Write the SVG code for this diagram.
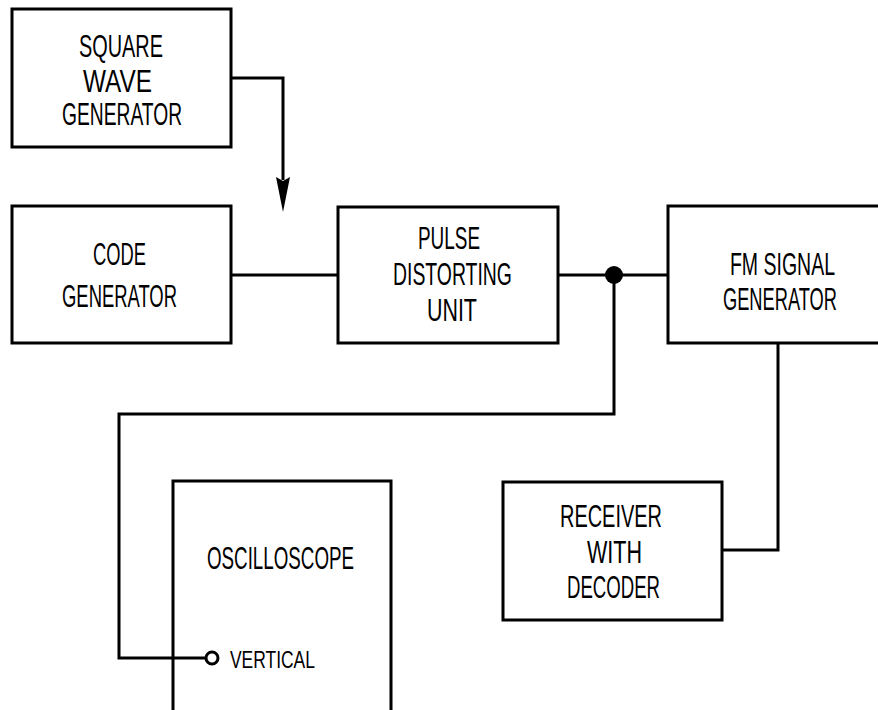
<svg xmlns="http://www.w3.org/2000/svg" width="878" height="710" viewBox="0 0 878 710">
<style>
.box{fill:none;stroke:#000;stroke-width:3}
.ln{fill:none;stroke:#000;stroke-width:3}
text{font-family:"Liberation Sans",Arial,sans-serif;font-size:31px;fill:#000}
.sm{font-size:23px}
</style>
<rect width="878" height="710" fill="#fff"/>
<g id="connectors">
<polyline class="ln" points="231,78 283,78 283,180"/>
<polygon points="276,177 283,181 290,177 283,212" fill="#000"/>
<line class="ln" x1="231" y1="275" x2="338" y2="275"/>
<line class="ln" x1="558" y1="275" x2="668" y2="275"/>
<polyline class="ln" points="614,275 614,414 119,414 119,658 206,658"/>
<circle cx="614" cy="275" r="9" fill="#000"/>
<polyline class="ln" points="778,343 778,550 722,550"/>
</g>
<g id="square-wave-generator">
<rect class="box" x="12" y="9" width="219" height="138"/>
<text transform="scale(0.68,1)" x="116.2" y="57" textLength="123.5" lengthAdjust="spacingAndGlyphs">SQUARE</text>
<text transform="scale(0.68,1)" x="122.1" y="92" textLength="101.5" lengthAdjust="spacingAndGlyphs">WAVE</text>
<text transform="scale(0.68,1)" x="91.2" y="125" textLength="176.5" lengthAdjust="spacingAndGlyphs">GENERATOR</text>
</g>
<g id="code-generator">
<rect class="box" x="12" y="206" width="219" height="137"/>
<text transform="scale(0.68,1)" x="136.8" y="265" textLength="77.9" lengthAdjust="spacingAndGlyphs">CODE</text>
<text transform="scale(0.68,1)" x="91.2" y="307" textLength="169.1" lengthAdjust="spacingAndGlyphs">GENERATOR</text>
</g>
<g id="pulse-distorting-unit">
<rect class="box" x="338" y="207" width="220" height="136"/>
<text transform="scale(0.68,1)" x="614.7" y="249" textLength="91.2" lengthAdjust="spacingAndGlyphs">PULSE</text>
<text transform="scale(0.68,1)" x="577.9" y="285" textLength="175" lengthAdjust="spacingAndGlyphs">DISTORTING</text>
<text transform="scale(0.68,1)" x="627.9" y="321" textLength="73.5" lengthAdjust="spacingAndGlyphs">UNIT</text>
</g>
<g id="fm-signal-generator">
<polyline class="box" points="890,206 668,206 668,343 890,343"/>
<text transform="scale(0.68,1)" x="1073.5" y="275" textLength="154.4" lengthAdjust="spacingAndGlyphs">FM SIGNAL</text>
<text transform="scale(0.68,1)" x="1063.2" y="310" textLength="167.6" lengthAdjust="spacingAndGlyphs">GENERATOR</text>
</g>
<g id="oscilloscope">
<polyline class="box" points="173,715 173,481 391,481 391,715"/>
<text transform="scale(0.68,1)" x="304.4" y="569" textLength="216.2" lengthAdjust="spacingAndGlyphs">OSCILLOSCOPE</text>
<circle cx="212" cy="658" r="6" fill="#fff" stroke="#000" stroke-width="3"/>
<text class="sm" transform="scale(0.68,1)" x="338.2" y="668" textLength="125" lengthAdjust="spacingAndGlyphs">VERTICAL</text>
</g>
<g id="receiver-with-decoder">
<rect class="box" x="503" y="482" width="219" height="138"/>
<text transform="scale(0.68,1)" x="823.5" y="527" textLength="150" lengthAdjust="spacingAndGlyphs">RECEIVER</text>
<text transform="scale(0.68,1)" x="863.2" y="563" textLength="80.9" lengthAdjust="spacingAndGlyphs">WITH</text>
<text transform="scale(0.68,1)" x="833.8" y="598" textLength="136.8" lengthAdjust="spacingAndGlyphs">DECODER</text>
</g>
</svg>
